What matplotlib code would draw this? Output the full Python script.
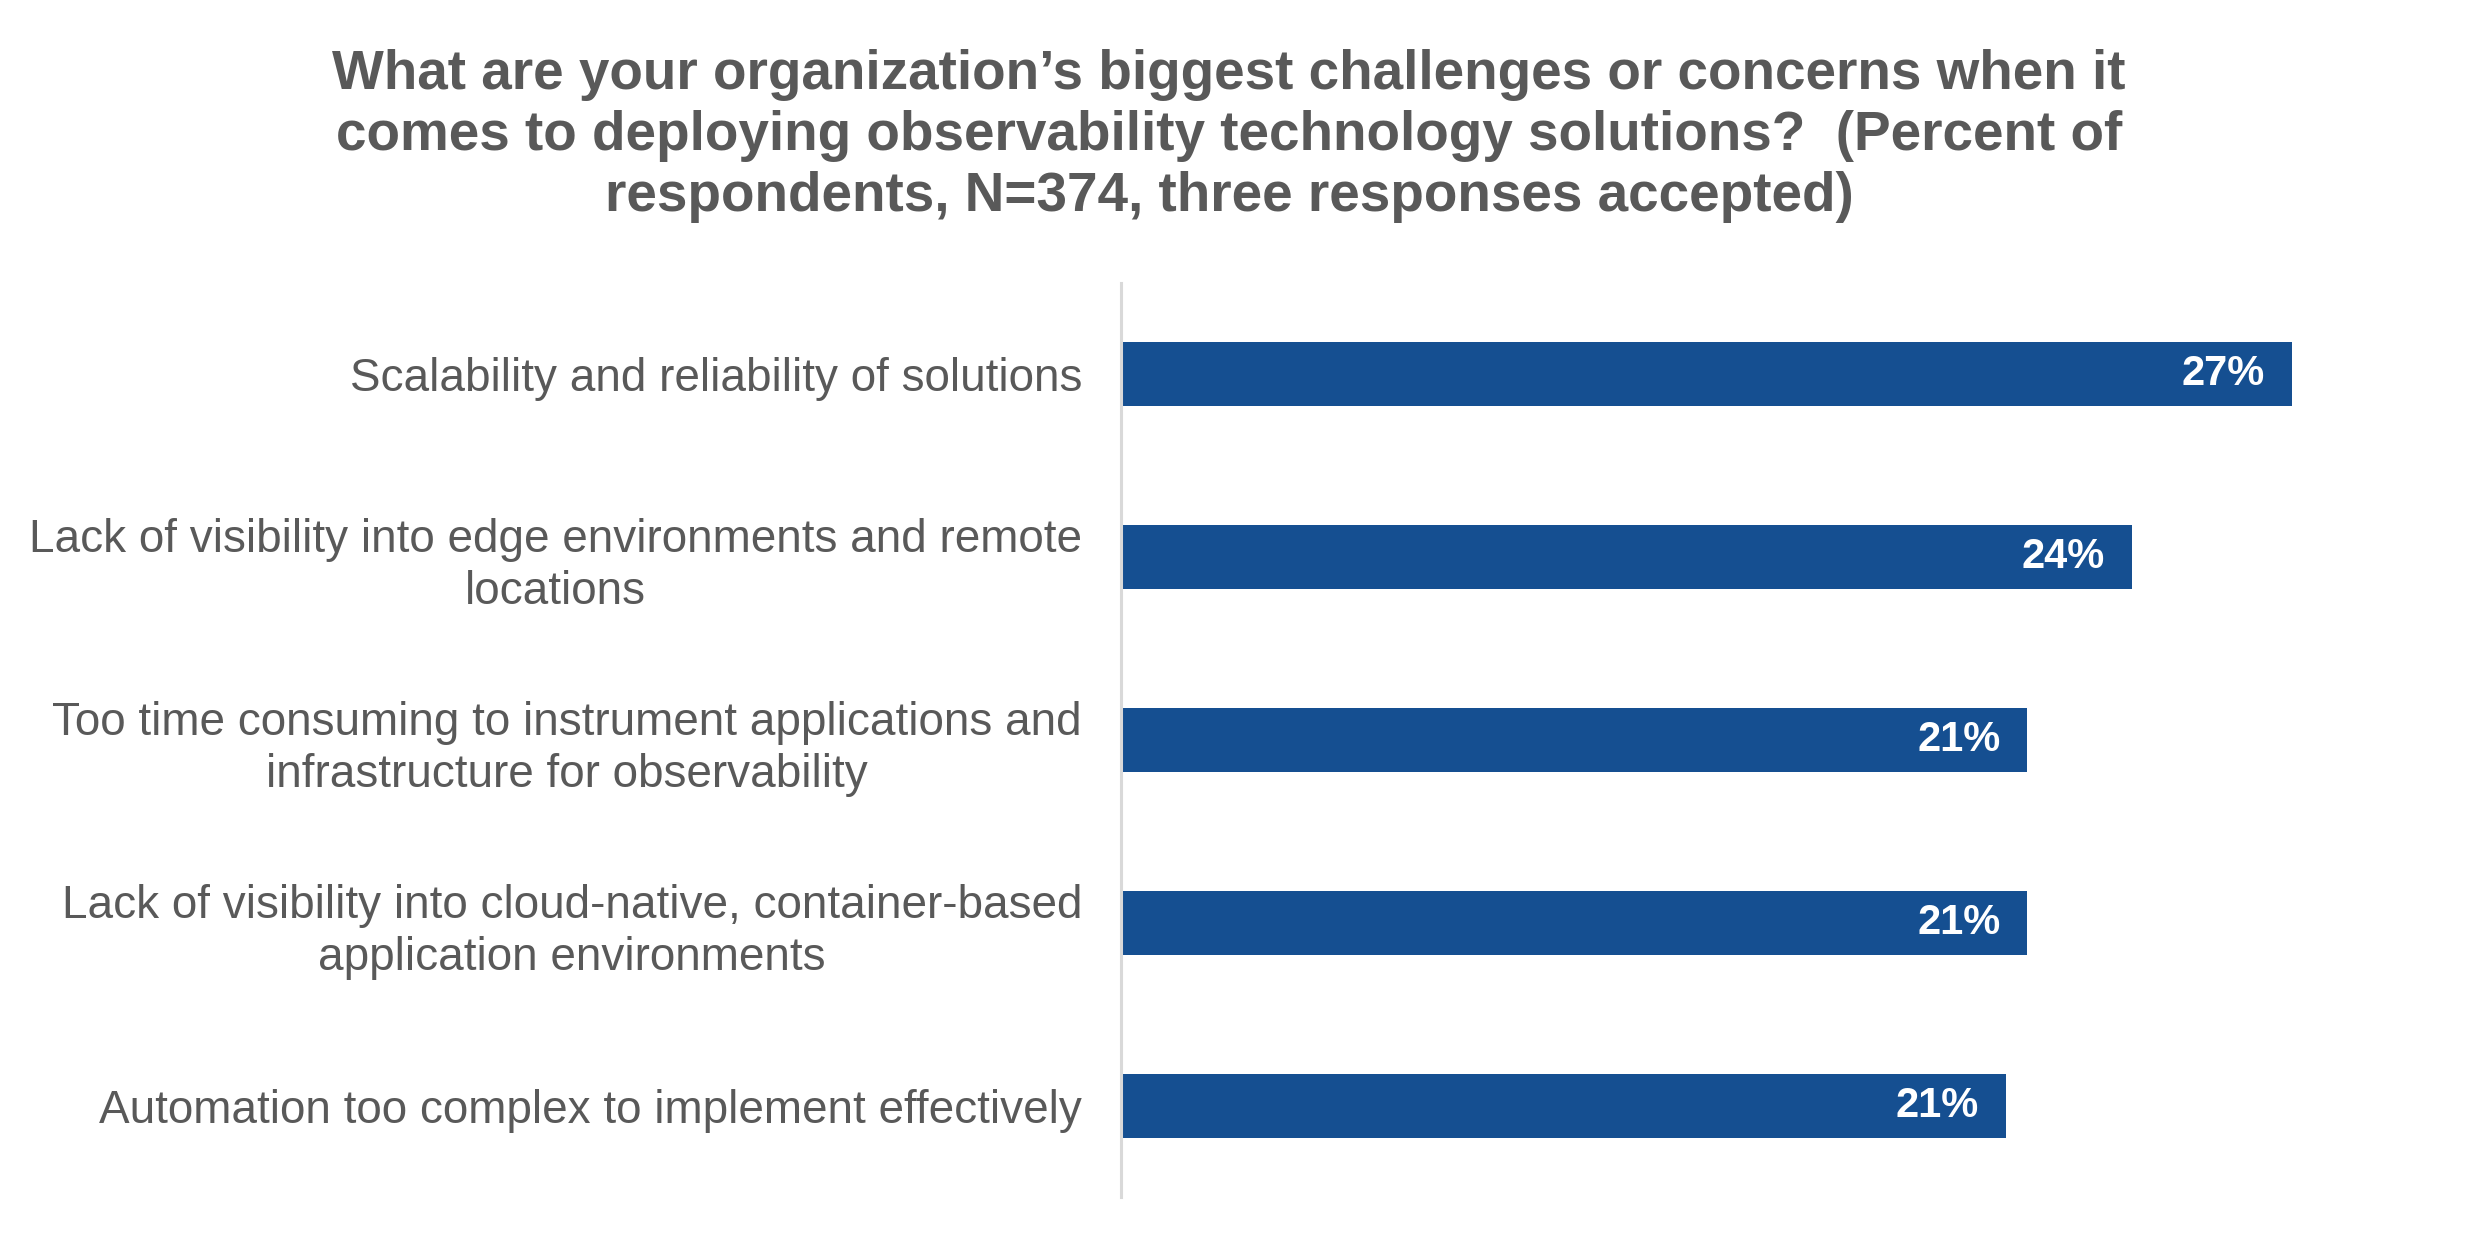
import matplotlib
matplotlib.use("Agg")
import matplotlib.pyplot as plt

categories = [
    "Scalability and reliability of solutions",
    "Lack of visibility into edge environments and remote\nlocations",
    "Too time consuming to instrument applications and\ninfrastructure for observability",
    "Lack of visibility into cloud-native, container-based\napplication environments",
    "Automation too complex to implement effectively",
]
values = [27.0, 23.3, 20.9, 20.9, 20.4]
value_labels = ["27%", "24%", "21%", "21%", "21%"]

title = ("What are your organization\u2019s biggest challenges or concerns when it\n"
         "comes to deploying observability technology solutions?  (Percent of\n"
         "respondents, N=374, three responses accepted)")

plt.rcParams['font.family'] = ['Liberation Sans', 'DejaVu Sans']
W, H = 2465, 1255
fig = plt.figure(figsize=(W / 100, H / 100), dpi=100)

x0, x1 = 1121, 2422
y_top, y_bot = 283, 1197
ax = fig.add_axes([x0 / W, 1 - y_bot / H, (x1 - x0) / W, (y_bot - y_top) / H])

bar_color = "#154F91"
grey = "#595959"
y = list(range(len(categories)))
ax.barh(y, values, height=0.35, color=bar_color)
ax.set_ylim(len(categories) - 0.5, -0.5)
ax.set_xlim(0, (x1 - x0) / ((2292 - x0) / 27.0))

for yi, v, lab in zip(y, values, value_labels):
    ax.annotate(lab, xy=(v, yi), xytext=(-27, 0), textcoords="offset pixels",
                ha="right", va="center", color="white", fontsize=30,
                fontweight="bold")

ax.set_yticks(y)
ax.set_yticklabels(categories, fontsize=33, color=grey, linespacing=1.23,
                   multialignment="center")
ax.tick_params(axis="y", length=0, pad=28)
ax.set_xticks([])
for s in ["top", "right", "bottom"]:
    ax.spines[s].set_visible(False)
ax.spines["left"].set_color("#D9D9D9")
ax.spines["left"].set_linewidth(2.2)

fig.text(1229 / W, 1 - 136 / H, title, ha="center", va="center",
         fontsize=39.5, fontweight="bold", color=grey, linespacing=1.22)

fig.savefig("out.png", dpi=100, facecolor="white")
